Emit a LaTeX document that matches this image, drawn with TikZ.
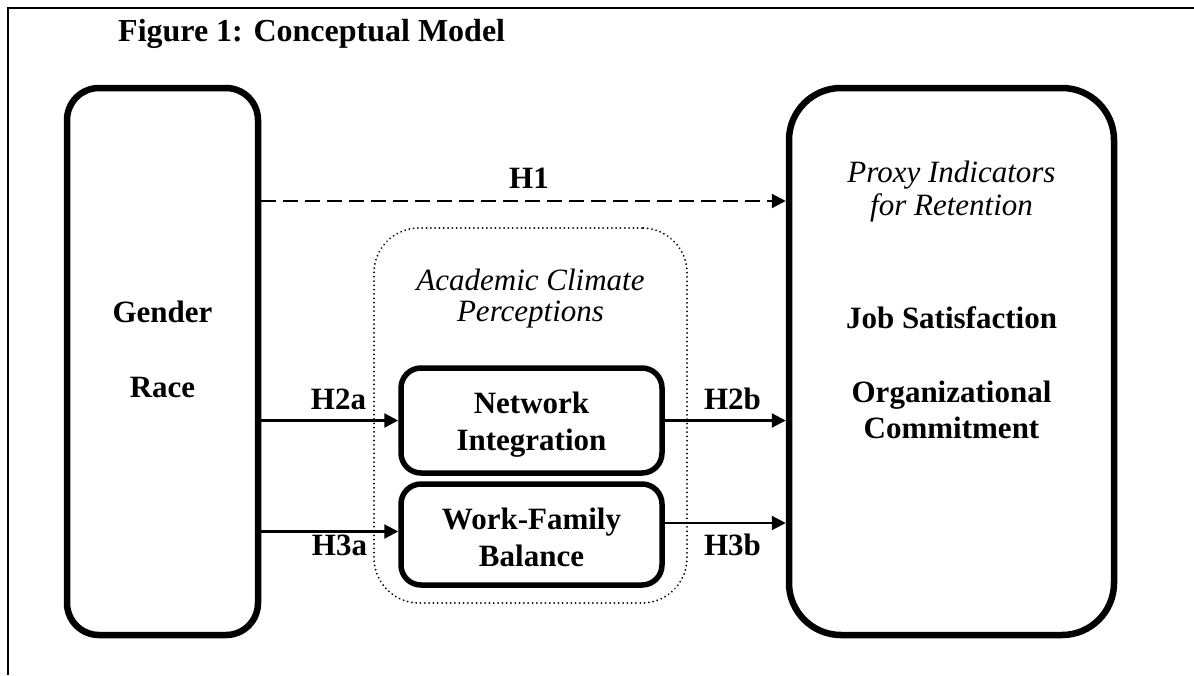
\documentclass[tikz,border=0pt]{standalone}
\usepackage{fontspec}
\setmainfont{Liberation Serif}
\usetikzlibrary{arrows.meta}
\tikzset{
  txt/.style={anchor=base,inner sep=0pt,font=\fontsize{31}{36}\selectfont\bfseries},
  itxt/.style={anchor=base,inner sep=0pt,font=\fontsize{31}{36}\selectfont\itshape},
  bigbox/.style={draw,line width=6.5pt,inner sep=0pt},
  smallbox/.style={draw,line width=5.5pt,inner sep=0pt,rounded corners=20pt,minimum width=261pt},
  groupbox/.style={draw,line width=2pt,line cap=round,dash pattern=on 0.01pt off 4.3pt,inner sep=0pt,rounded corners=45pt},
  solidarrow/.style={line width=2.2pt,-{Triangle[length=14pt,width=14pt]}},
  dasharrow/.style={line width=2.2pt,dash pattern=on 15pt off 7pt,-{Triangle[length=14pt,width=14pt]}},
}
\begin{document}
\begin{tikzpicture}[x=1pt,y=-1pt]
\useasboundingbox (0,0) rectangle (1194,675);
% frame
\draw[line width=2pt] (7.5,675) -- (7.5,7.5) -- (1194,7.5);
% title
\node[anchor=base west,inner sep=0pt,font=\fontsize{32}{38}\selectfont\bfseries] (title) at (118,41) {Figure 1: Conceptual Model};
% boxes
\node[bigbox,rounded corners=32pt,minimum width=191pt,minimum height=547pt] (gr) at (162.5,361.5) {};
\node[bigbox,rounded corners=52pt,minimum width=325pt,minimum height=547pt] (out) at (951.5,361.5) {};
\node[groupbox,minimum width=313pt,minimum height=375pt] (acp) at (530.5,415.5) {};
\node[smallbox,minimum height=105pt] (ni) at (531.5,420.5) {};
\node[smallbox,minimum height=101pt] (wf) at (531.5,534.5) {};
% texts
\node[txt] (gender) at (162.5,322) {Gender};
\node[txt] (race) at (162.5,397) {Race};
\node[itxt] (proxy1) at (951.5,182) {Proxy Indicators};
\node[itxt] (proxy2) at (951.5,215) {for Retention};
\node[txt] (job) at (951.5,328) {Job Satisfaction};
\node[txt] (org1) at (951.5,402) {Organizational};
\node[txt] (org2) at (951.5,438) {Commitment};
\node[itxt] (acad1) at (530.5,290) {Academic Climate};
\node[itxt] (acad2) at (530.5,321) {Perceptions};
\node[txt] (ni1) at (531.5,413) {Network};
\node[txt] (ni2) at (531.5,450) {Integration};
\node[txt] (wf1) at (531.5,529) {Work-Family};
\node[txt] (wf2) at (531.5,566) {Balance};
% connectors
\coordinate (h1y) at (0,201);
\coordinate (h3ay) at (0,531.5);
\coordinate (h3by) at (0,523);
\draw[dasharrow] (gr.east |- h1y) -- (out.west |- h1y);
\draw[solidarrow] (gr.east |- ni.west) -- (ni.west);
\draw[solidarrow] (ni.east) -- (out.west |- ni.east);
\draw[solidarrow] (gr.east |- h3ay) -- (wf.west |- h3ay);
\draw[solidarrow] (wf.east |- h3by) -- (out.west |- h3by);
% labels
\node[txt] (lh1) at (529,188) {H1};
\node[txt] (lh2a) at (338.5,409) {H2a};
\node[txt] (lh3a) at (339.5,555) {H3a};
\node[txt] (lh2b) at (732.5,409) {H2b};
\node[txt] (lh3b) at (732.5,555) {H3b};
\end{tikzpicture}
\end{document}
